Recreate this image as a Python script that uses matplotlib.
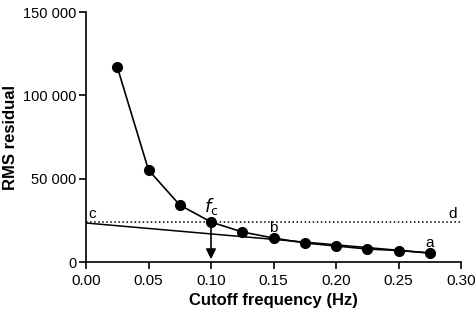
import numpy as np
import matplotlib.pyplot as plt

plt.rcParams['font.family'] = ['Liberation Sans', 'DejaVu Sans']

# data
freq = [0.025, 0.05, 0.075, 0.1, 0.125, 0.15, 0.175, 0.2, 0.225, 0.25, 0.275]
rms = [117000, 55200, 34200, 24000, 18000, 14400, 11400, 9600, 7800, 6900, 5400]
fit_x = [0.0, 0.275]
fit_y = [23400, 5400]
fc = 0.1
fc_rms = 24000
yticks = [0, 50000, 100000, 150000]
ytick_labels = ['0', '50 000', '100 000', '150 000']
xticks = [0.0, 0.05, 0.10, 0.15, 0.20, 0.25, 0.30]

fig = plt.figure(figsize=(4.77, 3.16), dpi=100)
ax = fig.add_axes([86/477, 1-262/316, 375/477, 250/316])

ax.plot(freq, rms, '-o', color='black', lw=1.2, ms=7, zorder=3)
ax.plot(fit_x, fit_y, '-', color='black', lw=1.1)
ax.plot([0, 0.3], [fc_rms, fc_rms], ':', color='black', lw=1.1)
ax.annotate('', xy=(fc, 0), xytext=(fc, fc_rms),
            arrowprops=dict(arrowstyle='-|>', color='black', lw=1.2, mutation_scale=15))

ax.text(0.002, fc_rms + 500, 'c', fontsize=11, ha='left', va='bottom')
ax.text(0.297, fc_rms + 500, 'd', fontsize=11, ha='right', va='bottom')
ax.text(0.15, 14400 + 1500, 'b', fontsize=11, ha='center', va='bottom')
ax.text(0.275, 5400 + 2000, 'a', fontsize=11, ha='center', va='bottom')
ax.text(0.1, fc_rms + 3000, r'$f_\mathrm{c}$', fontsize=13, ha='center', va='bottom')

ax.set_xlim(0, 0.3)
ax.set_ylim(0, 150000)
ax.set_xticks(xticks)
ax.set_xticklabels(['%.2f' % v for v in xticks])
ax.set_yticks(yticks)
ax.set_yticklabels(ytick_labels)
ax.spines['top'].set_visible(False)
ax.spines['right'].set_visible(False)
ax.spines['left'].set_linewidth(1.2)
ax.spines['bottom'].set_linewidth(1.2)
ax.tick_params(axis='x', direction='out', length=5, width=1.2, labelsize=11)
ax.tick_params(axis='y', direction='out', length=5, width=1.2, labelsize=10.5, pad=2)
ax.set_xlabel('Cutoff frequency (Hz)', fontsize=12, fontweight='bold')
ax.set_ylabel('RMS residual', fontsize=12, fontweight='bold')
ax.yaxis.set_label_coords(-0.182, 0.5)

fig.savefig('out.png', dpi=100)
